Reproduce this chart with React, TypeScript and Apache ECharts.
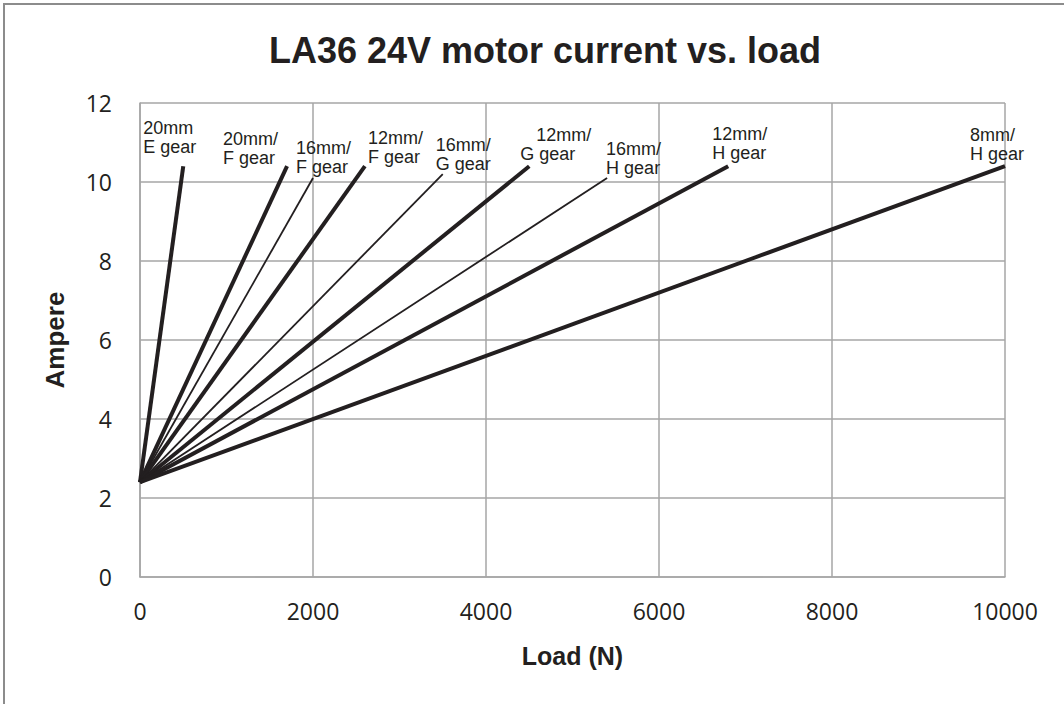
import React, { useEffect, useRef } from "react";
import * as echarts from "echarts";

const startLoad = 0;
const startAmp = 2.4;
const seriesNames = [
  "20mm E gear",
  "20mm/F gear",
  "16mm/F gear",
  "12mm/F gear",
  "16mm/G gear",
  "12mm/G gear",
  "16mm/H gear",
  "12mm/H gear",
  "8mm/H gear",
];
const labelTexts = [
  "20mm\nE gear",
  "20mm/\nF gear",
  "16mm/\nF gear",
  "12mm/\nF gear",
  "16mm/\nG gear",
  "{a|12mm/}\n{b|G gear}",
  "16mm/\nH gear",
  "12mm/\nH gear",
  "8mm/\nH gear",
];
const endLoads = [500, 1700, 2000, 2600, 3500, 4500, 5400, 6800, 10000];
const endAmps = [10.4, 10.4, 10.1, 10.4, 10.2, 10.4, 10.1, 10.4, 10.4];
const thickLines = [true, true, false, true, false, true, false, true, true];
const labelOffsets: number[][] = [
  [-40, -10],
  [-64, 1],
  [-17, -2],
  [3, 0],
  [-7, -1],
  [-9, -3],
  [-1, -1],
  [-16, -4],
  [-35, -3],
];

const LINE = "#231f20";
const GRID = "#a6a6a6";
const FONT = "Liberation Sans, Arial, sans-serif";

export default function App() {
  const ref = useRef<HTMLDivElement>(null);
  useEffect(() => {
    if (!ref.current) return;
    const chart = echarts.init(ref.current, undefined, { renderer: "svg" });
    const series = seriesNames.map((name, i) => ({
      type: "line",
      name,
      showSymbol: true,
      symbol: "circle",
      symbolSize: 0.1,
      itemStyle: { color: LINE },
      lineStyle: { color: LINE, width: thickLines[i] ? 4 : 1.8 },
      data: [
        { value: [startLoad, startAmp] },
        {
          value: [endLoads[i], endAmps[i]],
          label: {
            show: true,
            formatter: labelTexts[i],
            position: "inside",
            align: "left",
            verticalAlign: "bottom",
            offset: labelOffsets[i],
            color: LINE,
            fontFamily: FONT,
            fontSize: 18,
            lineHeight: 19,
            rich: {
              a: { fontSize: 18, lineHeight: 19, padding: [0, 0, 0, 16], color: LINE, fontFamily: FONT },
              b: { fontSize: 18, lineHeight: 19, color: LINE, fontFamily: FONT },
            },
          },
        },
      ],
    }));
    chart.setOption({
      animation: false,
      backgroundColor: "#ffffff",
      title: {
        text: "LA36 24V motor current vs. load",
        left: 540,
        textAlign: "center",
        top: 27,
        textStyle: {
          fontFamily: FONT,
          fontWeight: "bold",
          fontSize: 36,
          color: LINE,
        },
      },
      graphic: [
        {
          type: "rect",
          shape: { x: 4, y: 4, width: 1100, height: 800 },
          style: { fill: "none", stroke: "#8c8c8c", lineWidth: 2 },
          silent: true,
        },
      ],
      grid: { left: 140, right: 59, top: 103, bottom: 127 },
      xAxis: {
        type: "value",
        min: 0,
        max: 10000,
        interval: 2000,
        name: "Load (N)",
        nameLocation: "middle",
        nameGap: 66,
        nameTextStyle: {
          fontFamily: FONT,
          fontWeight: "bold",
          fontSize: 25,
          color: LINE,
        },
        axisLine: { show: true, lineStyle: { color: GRID, width: 1.5 } },
        axisTick: { show: false },
        axisLabel: {
          margin: 22,
          formatter: (v: number) => String(v),
          fontFamily: "Open Sans, sans-serif",
          fontSize: 23,
          color: LINE,
        },
        splitLine: { show: true, lineStyle: { color: GRID, width: 1.5 } },
      },
      yAxis: {
        type: "value",
        min: 0,
        max: 12,
        interval: 2,
        name: "Ampere",
        nameLocation: "middle",
        nameGap: 72,
        nameTextStyle: {
          fontFamily: FONT,
          fontWeight: "bold",
          fontSize: 26,
          color: LINE,
        },
        axisLine: { show: true, lineStyle: { color: GRID, width: 1.5 } },
        axisTick: { show: false },
        axisLabel: {
          margin: 28,
          fontFamily: "Open Sans, sans-serif",
          fontSize: 23,
          color: LINE,
        },
        splitLine: { show: true, lineStyle: { color: GRID, width: 1.5 } },
      },
      series,
    });
    return () => chart.dispose();
  }, []);
  return (
    <div
      ref={ref}
      style={{ position: "absolute", left: 0, top: 0, width: 1064, height: 704 }}
    />
  );
}
